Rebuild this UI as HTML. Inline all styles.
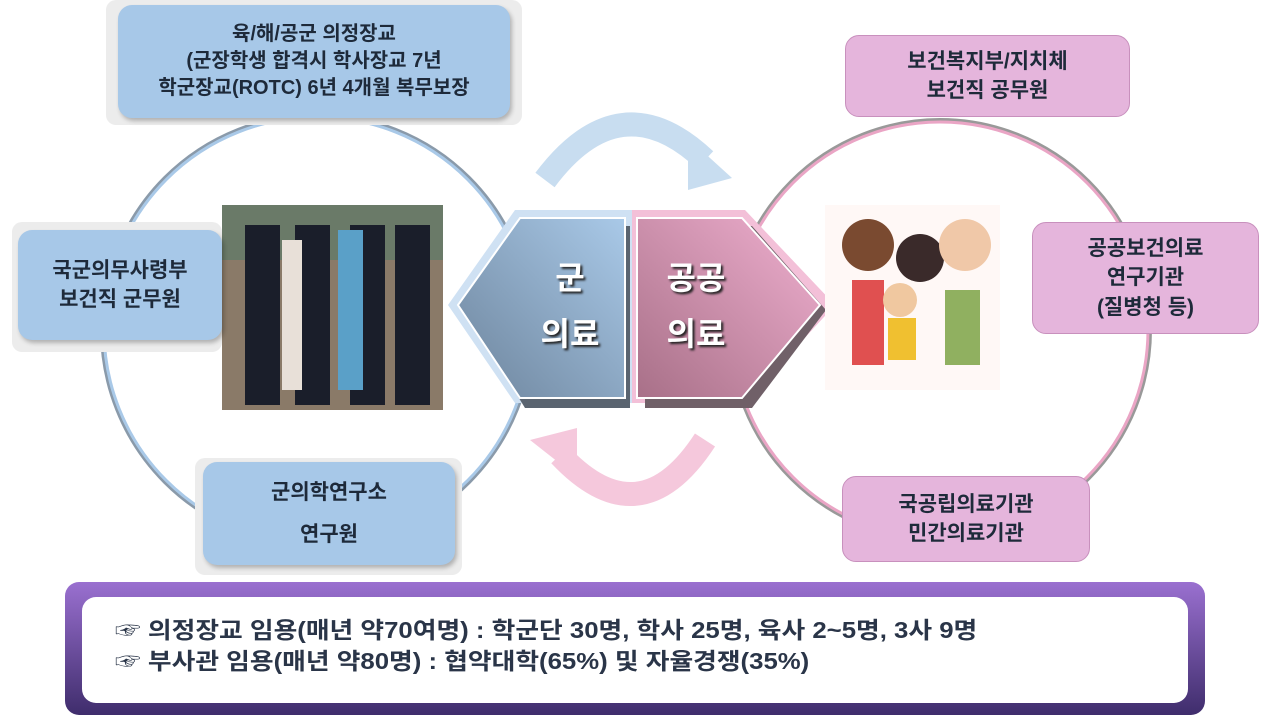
<!DOCTYPE html>
<html><head><meta charset="utf-8"><style>
body{margin:0;width:1263px;height:726px;background:#fff;overflow:hidden;position:relative;font-family:"Liberation Sans","Noto Sans CJK KR",sans-serif}
.b{position:absolute;display:flex;flex-direction:column;justify-content:center;align-items:center;text-align:center;color:#1e2a3a;font-size:21px;line-height:1.4;font-weight:bold}
.blue{background:#a7c8e8;border-radius:14px;box-shadow:2px 3px 4px rgba(0,0,0,.25)}
.pink{background:#e5b5dc;border-radius:14px;border:1px solid #c890bd}
.g{position:absolute;background:#ececec;border-radius:10px}
</style></head><body>
<svg width="1263" height="726" style="position:absolute;left:0;top:0">
<defs>
<linearGradient id="bl" x1="1" y1="0" x2="0" y2="1"><stop offset="0" stop-color="#a9c9e8"/><stop offset="1" stop-color="#6d849c"/></linearGradient>
<linearGradient id="pk" x1="1" y1="0" x2="0" y2="1"><stop offset="0" stop-color="#f0b0d0"/><stop offset="1" stop-color="#a87088"/></linearGradient>
<linearGradient id="pu" x1="0" y1="0" x2="0" y2="1"><stop offset="0" stop-color="#9a70d0"/><stop offset="1" stop-color="#3f2d6c"/></linearGradient>
</defs>
<circle cx="317" cy="330" r="215" fill="none" stroke="#8a9aaa" stroke-width="4"/>
<circle cx="317" cy="330" r="213" fill="none" stroke="#a9c9e8" stroke-width="3"/>
<circle cx="940" cy="330" r="210" fill="none" stroke="#999" stroke-width="4"/>
<circle cx="940" cy="330" r="208" fill="none" stroke="#eaa5c5" stroke-width="3"/>
<path d="M545 180 Q620 80 705 160" fill="none" stroke="#c8ddf0" stroke-width="24"/>
<polygon points="688,138 732,178 688,190" fill="#c8ddf0"/>
<path d="M705 440 Q640 540 560 455" fill="none" stroke="#f5c8dc" stroke-width="24"/>
<polygon points="577,477 530,440 577,428" fill="#f5c8dc"/>
<rect x="65" y="582" width="1140" height="133" rx="14" fill="url(#pu)"/>
<rect x="82" y="597" width="1106" height="106" rx="14" fill="#fff"/>
<polygon points="448,305 515,210 632,210 632,403 515,403" fill="#cfe1f3"/>
<polygon points="465,310 525,226 630,226 630,408 525,408" fill="#5a6470"/>
<polygon points="458,305 520,218 625,218 625,398 520,398" fill="url(#bl)" stroke="#fff" stroke-width="2"/>
<polygon points="632,210 745,210 835,305 745,403 632,403" fill="#f3c0d8"/>
<polygon points="645,226 752,226 826,310 752,408 645,408" fill="#706068"/>
<polygon points="637,218 742,218 820,305 742,398 637,398" fill="url(#pk)" stroke="#fff" stroke-width="2"/>
<rect x="222" y="205" width="221" height="205" fill="#8a7a68"/>
<rect x="222" y="205" width="221" height="55" fill="#6a7a68"/>
<rect x="245" y="225" width="35" height="180" fill="#1a1e2a"/><rect x="295" y="225" width="35" height="180" fill="#1a1e2a"/><rect x="350" y="225" width="35" height="180" fill="#1a1e2a"/><rect x="395" y="225" width="35" height="180" fill="#1a1e2a"/>
<rect x="338" y="230" width="25" height="160" fill="#5aa0c8"/><rect x="282" y="240" width="20" height="150" fill="#e8e0d8"/>
<rect x="825" y="205" width="175" height="185" fill="#fff8f6"/>
<circle cx="868" cy="245" r="26" fill="#7a4a30"/><circle cx="920" cy="258" r="24" fill="#3a2a2a"/><circle cx="965" cy="245" r="26" fill="#f0c8a8"/><rect x="945" y="290" width="35" height="75" fill="#90b060"/><rect x="852" y="280" width="32" height="85" fill="#e05050"/><circle cx="900" cy="300" r="17" fill="#f0c8a0"/><rect x="888" y="318" width="28" height="42" fill="#f0c030"/>
</svg>
<div class="g" style="left:106px;top:0;width:416px;height:125px"></div>
<div class="b blue" style="left:118px;top:5px;width:392px;height:113px;font-size:20px;line-height:1.35">육/해/공군 의정장교<br>(군장학생 합격시 학사장교 7년<br>학군장교(ROTC) 6년 4개월 복무보장</div>
<div class="g" style="left:12px;top:222px;width:210px;height:130px"></div>
<div class="b blue" style="left:18px;top:230px;width:204px;height:110px">국군의무사령부<br>보건직 군무원</div>
<div class="g" style="left:195px;top:458px;width:267px;height:117px"></div>
<div class="b blue" style="left:203px;top:462px;width:252px;height:103px;line-height:2">군의학연구소<br>연구원</div>
<div class="b pink" style="left:845px;top:35px;width:283px;height:80px">보건복지부/지치체<br>보건직 공무원</div>
<div class="b pink" style="left:1032px;top:222px;width:225px;height:110px">공공보건의료<br>연구기관<br>(질병청 등)</div>
<div class="b pink" style="left:842px;top:476px;width:246px;height:84px">국공립의료기관<br>민간의료기관</div>
<div class="b" style="left:530px;top:250px;width:80px;color:#fff;font-weight:bold;font-size:32px;line-height:56px;text-shadow:2px 2px 2px #222">군<br>의료</div>
<div class="b" style="left:656px;top:250px;width:80px;color:#fff;font-weight:bold;font-size:32px;line-height:56px;text-shadow:2px 2px 2px #222">공공<br>의료</div>
<div style="position:absolute;left:115px;top:615px;font-size:23px;line-height:31px;color:#2a3548;transform:scaleX(1.12);transform-origin:0 0;white-space:nowrap;font-weight:bold">☞ 의정장교 임용(매년 약70여명) :  학군단 30명, 학사 25명, 육사 2~5명, 3사 9명<br>☞ 부사관 임용(매년 약80명)  : 협약대학(65%) 및 자율경쟁(35%)</div>
</body></html>
